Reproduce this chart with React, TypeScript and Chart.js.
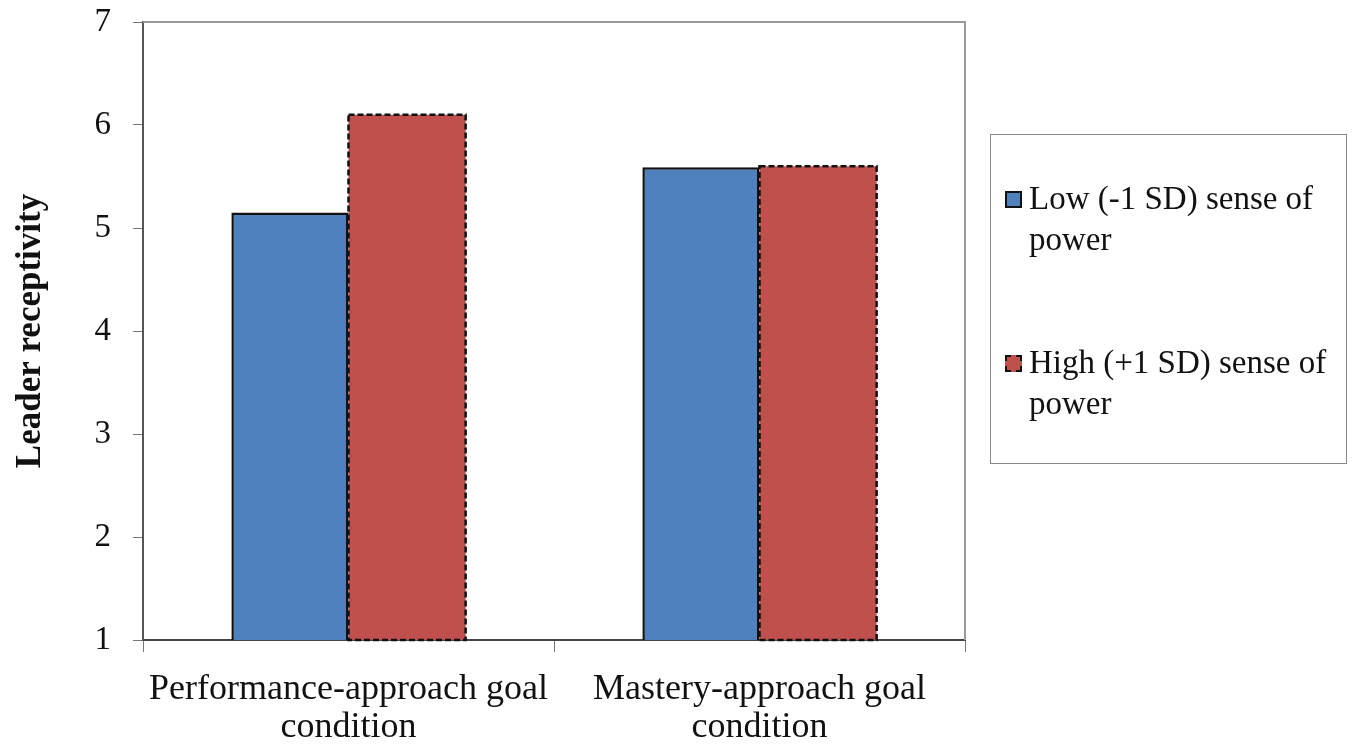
import React, { useEffect, useRef } from "react";
import { Chart, registerables } from "chart.js";

Chart.register(...registerables);

const categories = [
  ["Performance-approach goal", "condition"],
  ["Mastery-approach goal", "condition"],
];
const seriesNames = [
  ["Low (-1 SD) sense of", "power"],
  ["High (+1 SD) sense of", "power"],
];
const lowPower = [5.15, 5.59];
const highPower = [6.1, 5.6];
const colors = ["#4F81BD", "#C0504D"];

const FONT = "'Liberation Serif', 'Times New Roman', serif";

// frame around the plot area (top/right in light gray)
const framePlugin = {
  id: "frame",
  beforeDatasetsDraw(chart: any) {
    const { ctx, chartArea } = chart;
    ctx.save();
    ctx.strokeStyle = "#9a9a9a";
    ctx.lineWidth = 2;
    ctx.beginPath();
    ctx.moveTo(chartArea.left, chartArea.top);
    ctx.lineTo(chartArea.right, chartArea.top);
    ctx.lineTo(chartArea.right, chartArea.bottom);
    ctx.stroke();
    ctx.restore();
  },
};

// dashed outline for the high-power bars
const dashedBorderPlugin = {
  id: "dashedBorder",
  afterDatasetsDraw(chart: any) {
    const { ctx, chartArea } = chart;
    const meta = chart.getDatasetMeta(1);
    ctx.save();
    ctx.strokeStyle = "#111";
    ctx.lineWidth = 2.5;
    ctx.setLineDash([6, 3]);
    meta.data.forEach((bar: any) => {
      const left = bar.x - bar.width / 2;
      const bottom = Math.min(bar.base, chartArea.bottom);
      ctx.strokeRect(left, bar.y, bar.width, bottom - bar.y);
    });
    ctx.restore();
  },
};

export default function App() {
  const canvasRef = useRef<HTMLCanvasElement>(null);

  useEffect(() => {
    document.body.style.margin = "0";
    if (!canvasRef.current) return;
    const chart = new Chart(canvasRef.current, {
      type: "bar",
      data: {
        labels: categories,
        datasets: [
          {
            label: seriesNames[0].join(" "),
            data: lowPower,
            backgroundColor: colors[0],
            borderColor: "#111",
            borderWidth: 2.5,
            borderSkipped: false,
          },
          {
            label: seriesNames[1].join(" "),
            data: highPower,
            backgroundColor: colors[1],
            borderWidth: 0,
          },
        ],
      },
      options: {
        animation: false,
        responsive: false,
        maintainAspectRatio: false,
        layout: { padding: { top: 22, right: 389, left: 0, bottom: 0 } },
        datasets: { bar: { categoryPercentage: 0.57, barPercentage: 1 } },
        plugins: { legend: { display: false }, tooltip: { enabled: false } },
        scales: {
          x: {
            offset: true,
            grid: {
              offset: true,
              drawOnChartArea: false,
              drawTicks: true,
              tickLength: 12,
              color: "#777",
            },
            border: { color: "#444", width: 2 },
            ticks: {
              color: "#111",
              font: { family: FONT, size: 36, lineHeight: 1.05 },
              padding: 19,
              maxRotation: 0,
            },
            afterFit: (scale: any) => {
              scale.height = 109;
              scale.paddingLeft = 0;
              scale.paddingRight = 0;
            },
          },
          y: {
            min: 1,
            max: 7,
            ticks: {
              stepSize: 1,
              color: "#111",
              font: { family: FONT, size: 33 },
              padding: 22,
            },
            grid: {
              drawOnChartArea: false,
              drawTicks: true,
              tickLength: 10,
              color: "#777",
            },
            border: { color: "#555", width: 2 },
            title: {
              display: true,
              text: "Leader receptivity",
              color: "#111",
              font: { family: FONT, size: 35, weight: "bold" },
              padding: { top: 10, bottom: 40 },
            },
            afterFit: (scale: any) => {
              scale.width = 143;
              scale.paddingTop = 0;
              scale.paddingBottom = 0;
            },
          },
        },
      },
      plugins: [framePlugin, dashedBorderPlugin],
    });
    return () => chart.destroy();
  }, []);

  return (
    <div style={{ position: "relative", width: 1354, height: 749, background: "#fff" }}>
      <canvas ref={canvasRef} width={1354} height={749} style={{ display: "block" }} />
      <div
        style={{
          position: "absolute",
          left: 990,
          top: 134,
          width: 357,
          height: 330,
          border: "1.5px solid #888",
          boxSizing: "border-box",
          fontFamily: FONT,
          fontSize: 33,
          lineHeight: "41px",
          color: "#111",
        }}
      >
        {seriesNames.map((lines, i) => (
          <div
            key={i}
            style={{ position: "absolute", left: 14, top: i === 0 ? 43 : 207, display: "flex" }}
          >
            <span
              style={{
                display: "inline-block",
                width: 13,
                height: 13,
                marginTop: 13,
                marginRight: 7,
                background: colors[i],
                border: `2px ${i === 0 ? "solid" : "dashed"} #111`,
                flexShrink: 0,
              }}
            />
            <div style={{ whiteSpace: "nowrap" }}>
              {lines.map((l, j) => (
                <div key={j}>{l}</div>
              ))}
            </div>
          </div>
        ))}
      </div>
    </div>
  );
}
